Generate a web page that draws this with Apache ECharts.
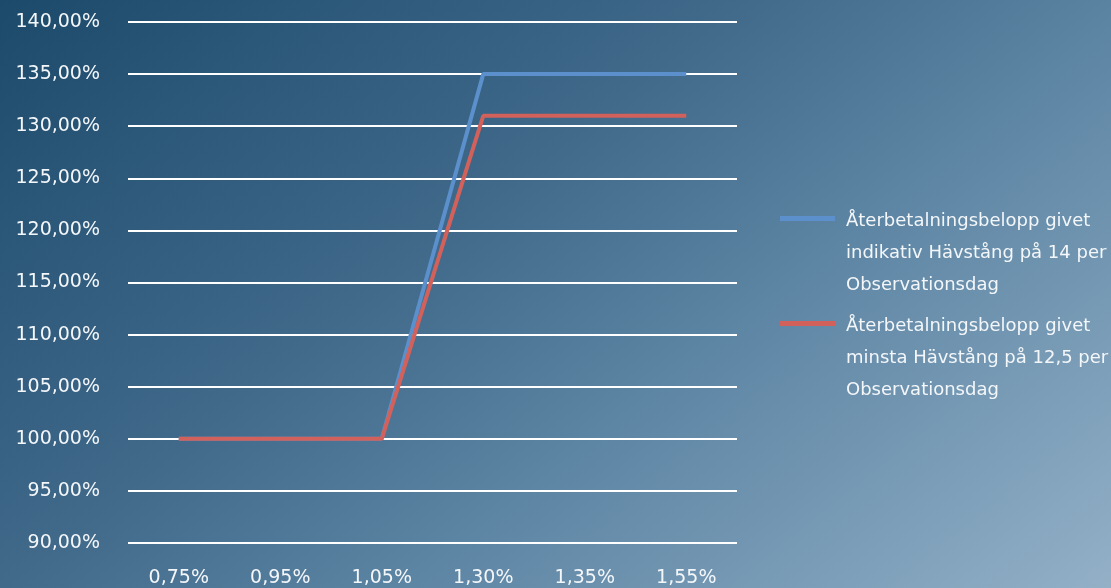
<!DOCTYPE html>
<html><head><meta charset="utf-8">
<script src="https://cdn.jsdelivr.net/npm/echarts@6/dist/echarts.min.js"></script>
<style>html,body{margin:0;padding:0;}#c{width:1111px;height:588px;}</style>
</head><body><div id="c"></div>
<script>
const categories = ['0,75%', '0,95%', '1,05%', '1,30%', '1,35%', '1,55%'];
const seriesNames = ['Återbetalningsbelopp givet indikativ Hävstång på 14 per Observationsdag',
                     'Återbetalningsbelopp givet minsta Hävstång på 12,5 per Observationsdag'];
const legendLines = [['Återbetalningsbelopp givet', 'indikativ Hävstång på 14 per', 'Observationsdag'],
                     ['Återbetalningsbelopp givet', 'minsta Hävstång på 12,5 per', 'Observationsdag']];
const blueValues = [100, 100, 100, 135, 135, 135];
const redValues = [100, 100, 100, 131, 131, 131];
const yMin = 90, yMax = 140, yStep = 5;

const chart = echarts.init(document.getElementById('c'));
const font = 'DejaVu Sans';
const legendIcon = 'path://M0,0L0.01,0Z M0,11L55,11L55,16L0,16Z M0,96L0.01,96Z';
chart.setOption({
  backgroundColor: new echarts.graphic.LinearGradient(0, 0, 715.7, 901.8, [
    {offset: 0, color: '#1c4a6b'},
    {offset: 0.4, color: '#40698a'},
    {offset: 0.6, color: '#5a83a2'},
    {offset: 1, color: '#93b0c7'}
  ], true),
  animation: false,
  grid: {left: 128, right: 374, top: 22, bottom: 45},
  legend: {
    orient: 'vertical', left: 775, top: 200,
    itemWidth: 55, itemHeight: 96, itemGap: 9,
    icon: legendIcon,
    itemStyle: {borderWidth: 0},
    textStyle: {color: '#f4f7fa', fontFamily: font, fontSize: 18, lineHeight: 32, padding: [0, 0, 0, 6]},
    formatter: n => legendLines[seriesNames.indexOf(n)].join('\n'),
    data: seriesNames
  },
  xAxis: {
    type: 'category', data: categories, boundaryGap: true,
    axisLine: {show: false}, axisTick: {show: false},
    axisLabel: {color: '#f4f7fa', fontFamily: font, fontSize: 19, margin: 26}
  },
  yAxis: {
    type: 'value', min: yMin, max: yMax, interval: yStep,
    axisLine: {show: false}, axisTick: {show: false},
    axisLabel: {color: '#f4f7fa', fontFamily: font, fontSize: 19, margin: 28,
      formatter: v => v.toFixed(2).replace('.', ',') + '%'},
    splitLine: {lineStyle: {color: '#ffffff', width: 2}}
  },
  series: [
    {name: seriesNames[0], type: 'line', data: blueValues, symbol: 'none',
     itemStyle: {color: '#5b90cc'}, lineStyle: {color: '#5b90cc', width: 4}, z: 2},
    {name: seriesNames[1], type: 'line', data: redValues, symbol: 'none',
     itemStyle: {color: '#d1615a'}, lineStyle: {color: '#d1615a', width: 4}, z: 3}
  ]
});
</script></body></html>
